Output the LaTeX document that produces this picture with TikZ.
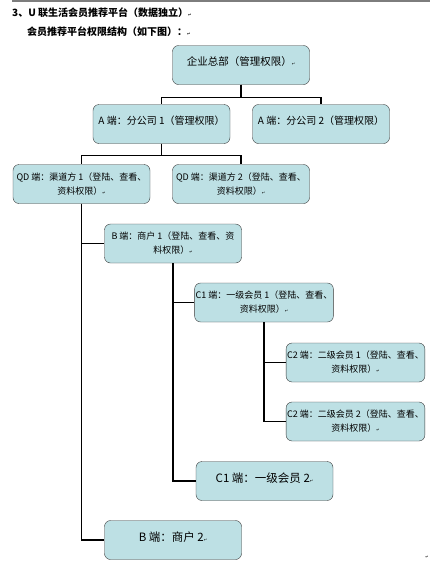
\documentclass[tikz,border=0pt]{standalone}
\usepackage{fontspec}
\setmainfont{Noto Sans CJK SC}
\newfontfamily\markfont{DejaVu Sans}
\usepackage{tikz}
\definecolor{boxfill}{RGB}{189,224,228}
\definecolor{boxline}{RGB}{55,55,55}
\definecolor{rulegray}{RGB}{125,125,125}
\newcommand{\pmark}{{\markfont\fontsize{4}{4}\selectfont ↵}}
\newcommand{\boxfont}{\fontsize{9}{14}\selectfont}

\begin{document}
\begin{tikzpicture}[x=1pt,y=-1pt,
		box/.style={draw=boxline,fill=boxfill,rounded corners=6pt,minimum width=137pt,minimum height=39pt,align=center,inner sep=1pt,font=\boxfont},
		oneline/.style={text depth=7pt},
		link/.style={draw=black,line width=1.4pt}]
		\useasboundingbox (0,0) rectangle (442,571);
		%Heading
		\draw[rulegray,line width=1.2pt] (12,1) -- (430,1);
		\node[anchor=west,inner sep=0pt,font=\fontsize{10}{12}\selectfont\bfseries] (title) at (12,13) {3、U 联生活会员推荐平台（数据独立）\pmark};
		\node[anchor=west,inner sep=0pt,font=\fontsize{10}{12}\selectfont\bfseries] (subtitle) at (27,32) {会员推荐平台权限结构（如下图）：\pmark};
		%Boxes
		\node[box,oneline,font=\fontsize{10.5}{14}\selectfont] (hq) at (241,65) {企业总部（管理权限）\pmark};
		\node[box,oneline,font=\fontsize{10}{14}\selectfont] (a1) at (161.5,124) {A 端：分公司 1（管理权限）};
		\node[box,oneline,font=\fontsize{10}{14}\selectfont] (a2) at (321,124) {A 端：分公司 2（管理权限）};
		\node[box] (qd1) at (81.5,184) {QD 端：渠道方 1（登陆、查看、\\资料权限）\pmark};
		\node[box] (qd2) at (241,184) {QD 端：渠道方 2（登陆、查看、\\资料权限）\pmark};
		\node[box] (b1) at (173,243.5) {B 端：商户 1（登陆、查看、资\\料权限）\pmark};
		\node[box] (c11) at (264,302.5) {C1 端：一级会员 1（登陆、查看、\\资料权限）\pmark};
		\node[box] (c21) at (355.5,362.5) {C2 端：二级会员 1（登陆、查看、\\资料权限）\pmark};
		\node[box] (c22) at (355.5,421.5) {C2 端：二级会员 2（登陆、查看、\\资料权限）\pmark};
		\node[box,oneline,font=\fontsize{11.5}{14}\selectfont] (c12) at (264.5,481) {C1 端：一级会员 2\pmark};
		\node[box,oneline,font=\fontsize{11.5}{14}\selectfont] (b2) at (173,540) {B 端：商户 2\pmark};
		\node[inner sep=0pt] (endmark) at (427,557) {\pmark};
		%Connectors
		\draw[link] (hq.south) -- ++(0,13) -| (a1.north);
		\draw[link] (hq.south) -- ++(0,13) -| (a2.north);
		\draw[link] (a1.south) -- ++(0,12) -| (qd1.north);
		\draw[link] (a1.south) -- ++(0,12) -| (qd2.north);
		\draw[link] (qd1.south) |- (b1.west);
		\draw[link] (qd1.south) |- (b2.west);
		\draw[link] (b1.south) |- (c11.west);
		\draw[link] (b1.south) |- (c12.west);
		\draw[link] (c11.south) |- (c21.west);
		\draw[link] (c11.south) |- (c22.west);
\end{tikzpicture}
\end{document}
